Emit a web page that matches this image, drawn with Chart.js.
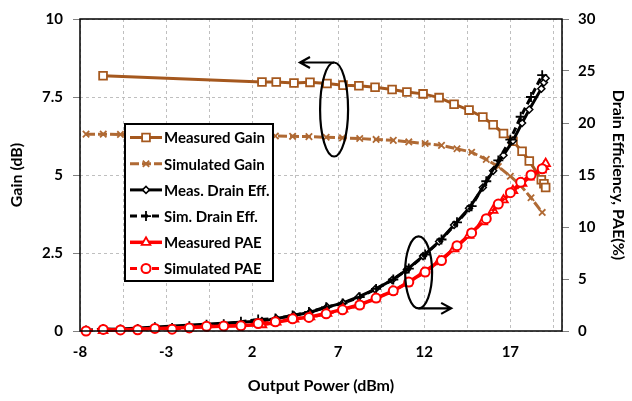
<!DOCTYPE html>
<html>
<head>
<meta charset="utf-8">
<script src="https://cdn.jsdelivr.net/npm/chart.js@4.4.0/dist/chart.umd.min.js"></script>
<style>
  html, body { margin: 0; padding: 0; background: #fff; }
  #wrap { width: 632px; height: 401px; }
</style>
</head>
<body>
<div id="wrap"><canvas id="chart" width="632" height="401"></canvas></div>
<script>
// measured sweep
const measPout = [-6.66, 2.57, 3.4, 4.43, 5.36, 6.35, 7.28, 8.2, 9.14, 10.13, 10.99, 11.93, 12.86, 13.73, 14.6, 15.4, 16.0, 16.6, 17.15, 17.68, 18.1, 18.8, 18.95, 19.05];
const measGain = [8.18, 7.98, 7.98, 7.95, 7.97, 7.93, 7.88, 7.86, 7.81, 7.74, 7.66, 7.6, 7.48, 7.27, 7.08, 6.86, 6.61, 6.33, 6.08, 5.76, 5.45, 4.85, 4.72, 4.6];
const measDrainEff = [0.1, 0.95, 1.2, 1.5, 1.8, 2.3, 2.7, 3.3, 4.0, 4.9, 5.9, 7.2, 8.6, 10.2, 11.8, 13.8, 15.4, 16.9, 18.3, 20.0, 21.3, 23.3, 23.9, 24.3];
const measPAE = [0.05, 0.6, 0.85, 1.15, 1.35, 1.7, 2.1, 2.5, 3.1, 3.8, 4.6, 5.6, 6.7, 7.9, 9.2, 10.5, 11.6, 12.6, 13.5, 14.2, 14.8, 15.5, 15.8, 16.1];

// simulated sweep
const simPout = [-7.65, -6.65, -5.65, -4.65, -3.65, -2.65, -1.65, -0.65, 0.35, 1.35, 2.35, 3.35, 4.35, 5.3, 6.3, 7.25, 8.25, 9.2, 10.2, 11.1, 12.05, 13.0, 13.9, 14.75, 15.6, 16.3, 17.0, 17.6, 18.2, 18.85];
const simGain = [6.31, 6.31, 6.3, 6.3, 6.3, 6.29, 6.29, 6.28, 6.28, 6.27, 6.26, 6.25, 6.24, 6.23, 6.21, 6.19, 6.17, 6.14, 6.11, 6.06, 6.01, 5.95, 5.84, 5.73, 5.5, 5.27, 4.96, 4.66, 4.27, 3.8];
const simDrainEff = [0.05, 0.2, 0.15, 0.2, 0.35, 0.3, 0.45, 0.6, 0.65, 0.88, 1.1, 1.19, 1.5, 1.82, 2.29, 2.65, 3.25, 4.05, 4.95, 6.0, 7.35, 8.8, 10.45, 12.0, 14.4, 16.4, 18.4, 20.6, 22.5, 24.6];
const simPAE = [0.0, 0.15, 0.1, 0.12, 0.25, 0.18, 0.3, 0.45, 0.47, 0.5, 0.72, 0.88, 1.17, 1.3, 1.65, 2.04, 2.5, 3.17, 3.86, 4.7, 5.67, 6.77, 8.2, 9.43, 10.8, 12.2, 13.3, 14.3, 15.0, 15.6];

// axes
const xGridValues = [-8, -5.5, -3, -0.5, 2, 4.5, 7, 9.5, 12, 14.5, 17, 19.5, 20];
const xTickLabels = [-8, -3, 2, 7, 12, 17];
const seriesLabels = ['Measured Gain', 'Simulated Gain', 'Meas. Drain Eff.', 'Sim. Drain Eff.', 'Measured PAE', 'Simulated PAE'];

const BROWN = '#A5581E';
const BROWN_SIM = '#B06A34';
const RED = '#FF0000';
const FONT = 'Lato, "Open Sans", sans-serif';

const pts = (xs, ys) => xs.map((x, i) => ({ x: x, y: ys[i] }));

// legend box + ellipses/arrows drawn on top of the plot
const overlayPlugin = {
  id: 'overlay',
  afterDatasetsDraw(chart) {
    const ctx = chart.ctx;
    const a = chart.chartArea;
    const xs = chart.scales.x, yl = chart.scales.y, yr = chart.scales.y2;

    // plot frame
    ctx.save();
    ctx.strokeStyle = '#000';
    ctx.lineWidth = 1.5;
    ctx.strokeRect(a.left, a.top, a.right - a.left, a.bottom - a.top);

    // gain pointer
    ctx.lineWidth = 2.2;
    let cx = xs.getPixelForValue(6.76), cy = yl.getPixelForValue(7.1);
    ctx.beginPath();
    ctx.ellipse(cx, cy, 14, 47, 0, 0, Math.PI * 2);
    ctx.stroke();
    let tip = xs.getPixelForValue(4.78), ty = cy - 47;
    ctx.beginPath();
    ctx.moveTo(cx, ty); ctx.lineTo(tip, ty);
    ctx.moveTo(tip + 10, ty - 5.5); ctx.lineTo(tip, ty); ctx.lineTo(tip + 10, ty + 5.5);
    ctx.stroke();

    // efficiency pointer
    cx = xs.getPixelForValue(11.67); cy = yr.getPixelForValue(5.64);
    ctx.beginPath();
    ctx.ellipse(cx, cy, 13.5, 36, 0, 0, Math.PI * 2);
    ctx.stroke();
    tip = xs.getPixelForValue(13.56); ty = cy + 36;
    ctx.beginPath();
    ctx.moveTo(cx, ty); ctx.lineTo(tip, ty);
    ctx.moveTo(tip - 10, ty - 5.5); ctx.lineTo(tip, ty); ctx.lineTo(tip - 10, ty + 5.5);
    ctx.stroke();

    // legend
    const bx = 125, by = 124, bw = 148, bh = 157;
    ctx.fillStyle = '#fff';
    ctx.fillRect(bx, by, bw, bh);
    ctx.lineWidth = 2;
    ctx.strokeStyle = '#000';
    ctx.strokeRect(bx, by, bw, bh);
    ctx.font = 'bold 15px ' + FONT;
    ctx.textBaseline = 'middle';
    ctx.textAlign = 'left';
    chart.data.datasets.forEach((ds, i) => {
      const y = by + 13.5 + i * 26.2;
      ctx.save();
      ctx.strokeStyle = ds.borderColor;
      ctx.lineWidth = ds.borderWidth;
      ctx.setLineDash(ds.borderDash || []);
      ctx.beginPath();
      ctx.moveTo(bx + 5, y); ctx.lineTo(bx + 37, y);
      ctx.stroke();
      ctx.setLineDash([]);
      ctx.fillStyle = ds.pointBackgroundColor;
      ctx.strokeStyle = ds.pointBorderColor;
      ctx.lineWidth = ds.pointBorderWidth;
      Chart.helpers.drawPoint(ctx, { pointStyle: ds.pointStyle, radius: ds.pointRadius, borderWidth: ds.pointBorderWidth, rotation: 0 }, bx + 21, y);
      ctx.restore();
      ctx.fillStyle = '#000';
      ctx.fillText(ds.label, bx + 39, y + 1);
    });
    ctx.restore();
  }
};

new Chart(document.getElementById('chart'), {
  type: 'line',
  data: {
    datasets: [
      {
        label: seriesLabels[0], data: pts(measPout, measGain), yAxisID: 'y', order: 5,
        borderColor: BROWN, borderWidth: 3, pointStyle: 'rect', pointRadius: 5.5,
        pointBackgroundColor: '#fff', pointBorderColor: BROWN, pointBorderWidth: 1.8
      },
      {
        label: seriesLabels[1], data: pts(simPout, simGain), yAxisID: 'y', order: 4,
        borderColor: BROWN_SIM, borderWidth: 3, borderDash: [9, 3], pointStyle: 'crossRot', pointRadius: 4.5,
        pointBackgroundColor: BROWN_SIM, pointBorderColor: BROWN_SIM, pointBorderWidth: 1.8
      },
      {
        label: seriesLabels[2], data: pts(measPout, measDrainEff), yAxisID: 'y2', order: 3,
        borderColor: '#000', borderWidth: 3, pointStyle: 'rectRot', pointRadius: 3.5,
        pointBackgroundColor: '#fff', pointBorderColor: '#000', pointBorderWidth: 1.5
      },
      {
        label: seriesLabels[3], data: pts(simPout, simDrainEff), yAxisID: 'y2', order: 2,
        borderColor: '#000', borderWidth: 3, borderDash: [7, 4], pointStyle: 'cross', pointRadius: 5,
        pointBackgroundColor: '#000', pointBorderColor: '#000', pointBorderWidth: 1.8
      },
      {
        label: seriesLabels[4], data: pts(measPout, measPAE), yAxisID: 'y2', order: 1,
        borderColor: RED, borderWidth: 3.5, pointStyle: 'triangle', pointRadius: 5,
        pointBackgroundColor: '#fff', pointBorderColor: RED, pointBorderWidth: 1.8
      },
      {
        label: seriesLabels[5], data: pts(simPout, simPAE), yAxisID: 'y2', order: 0,
        borderColor: RED, borderWidth: 3, borderDash: [7, 4], pointStyle: 'circle', pointRadius: 4.5,
        pointBackgroundColor: '#fff', pointBorderColor: RED, pointBorderWidth: 2
      }
    ]
  },
  options: {
    responsive: false,
    animation: false,
    layout: { padding: { top: 12, left: 0, right: 0, bottom: 0 } },
    elements: { line: { tension: 0 } },
    datasets: { line: { clip: false } },
    plugins: { legend: { display: false }, tooltip: { enabled: false } },
    scales: {
      x: {
        type: 'linear', min: -8, max: 20,
        afterBuildTicks: (s) => { s.ticks = xGridValues.map(v => ({ value: v })); },
        afterFit: (s) => { s.height = 70; },
        ticks: {
          autoSkip: false, maxRotation: 0, padding: 12, color: '#000',
          font: { family: FONT, size: 15, weight: 'bold' },
          callback: (v) => xTickLabels.includes(v) ? String(v) : ''
        },
        grid: { color: '#BFBFBF', lineWidth: 1, drawTicks: false },
        border: { display: false, dash: [3, 3] },
        title: {
          display: true, text: 'Output Power (dBm)', color: '#000',
          font: { family: FONT, size: 16, weight: 'bold' }, padding: { top: 0, bottom: 6 }
        }
      },
      y: {
        type: 'linear', position: 'left', min: 0, max: 10,
        afterFit: (s) => { s.width = 80; },
        ticks: {
          stepSize: 2.5, padding: 10, color: '#000',
          font: { family: FONT, size: 15, weight: 'bold' }
        },
        grid: { color: '#BFBFBF', tickColor: '#808080', tickLength: 7, tickBorderDash: [] },
        border: { display: false, dash: [3, 3] },
        title: {
          display: true, text: 'Gain (dB)', color: '#000',
          font: { family: FONT, size: 16, weight: 'bold' }, padding: 7
        }
      },
      y2: {
        type: 'linear', position: 'right', min: 0, max: 30,
        afterFit: (s) => { s.width = 70; },
        ticks: {
          stepSize: 5, padding: 9, color: '#000',
          font: { family: FONT, size: 15, weight: 'bold' }
        },
        grid: { drawOnChartArea: false, tickColor: '#808080', tickLength: 7 },
        border: { display: false },
        title: {
          display: true, text: 'Drain Efficiency, PAE(%)', color: '#000',
          font: { family: FONT, size: 16, weight: 'bold' }, padding: 4
        }
      }
    }
  },
  plugins: [overlayPlugin]
});
</script>
</body>
</html>
